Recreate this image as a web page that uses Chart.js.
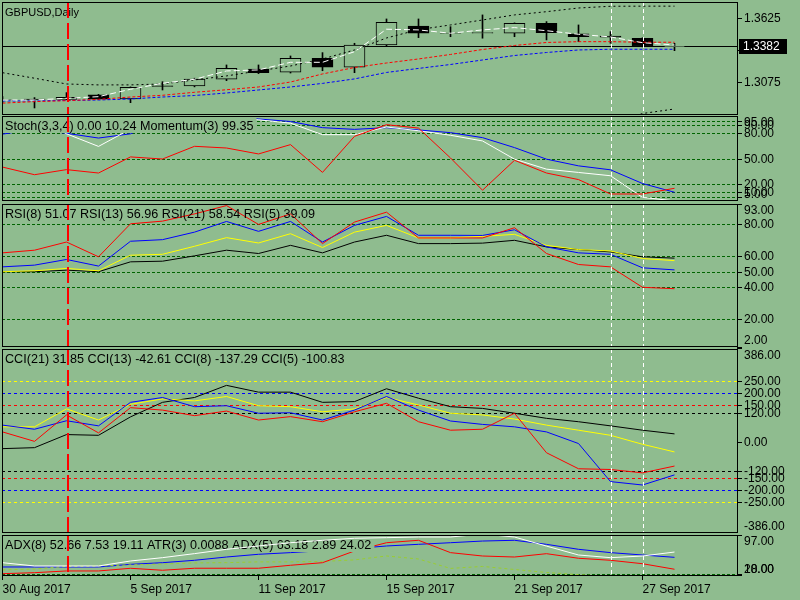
<!DOCTYPE html>
<html>
<head>
<meta charset="utf-8">
<script src="https://cdn.jsdelivr.net/npm/chart.js@4.4.1/dist/chart.umd.min.js"></script>
<style>
  html, body { margin: 0; padding: 0; background: #8fbc8f; }
  #wrap { position: relative; width: 800px; height: 600px; overflow: hidden; }
  #wrap canvas { position: absolute; left: 0; top: 0; }
</style>
</head>
<body>
<div id="wrap">
  <canvas id="cMain" width="800" height="600"></canvas>
  <canvas id="cStoch" width="800" height="600"></canvas>
  <canvas id="cRsi" width="800" height="600"></canvas>
  <canvas id="cCci" width="800" height="600"></canvas>
  <canvas id="cAdx" width="800" height="600"></canvas>
</div>
<script>
// bars (daily)
const dates = ['30 Aug 2017', '31 Aug 2017', '1 Sep 2017', '4 Sep 2017', '5 Sep 2017', '6 Sep 2017',
  '7 Sep 2017', '8 Sep 2017', '11 Sep 2017', '12 Sep 2017', '13 Sep 2017', '14 Sep 2017', '15 Sep 2017',
  '18 Sep 2017', '19 Sep 2017', '20 Sep 2017', '21 Sep 2017', '22 Sep 2017', '25 Sep 2017', '26 Sep 2017',
  '27 Sep 2017', '28 Sep 2017'];
const dateTicks = [0, 4, 8, 12, 16, 20];

const openP  = [1.2910, 1.2925, 1.2922, 1.2960, 1.2925, 1.3040, 1.3038, 1.3096, 1.3185, 1.3157, 1.3278,
  1.3200, 1.3393, 1.3558, 1.3497, 1.3495, 1.3495, 1.3582, 1.3489, 1.3471, 1.3452, 1.3380];
const highP  = [1.2945, 1.2937, 1.2980, 1.2965, 1.3030, 1.3075, 1.3105, 1.3220, 1.3220, 1.3298, 1.3327,
  1.3408, 1.3619, 1.3619, 1.3552, 1.3654, 1.3585, 1.3596, 1.3567, 1.3509, 1.3456, 1.3408];
const lowP   = [1.2895, 1.2847, 1.2918, 1.2920, 1.2893, 1.3003, 1.3030, 1.3084, 1.3145, 1.3150, 1.3170,
  1.3153, 1.3385, 1.3457, 1.3465, 1.3452, 1.3465, 1.3437, 1.3422, 1.3408, 1.3377, 1.3344];
const closeP = [1.2917, 1.2920, 1.2940, 1.2923, 1.3027, 1.3033, 1.3098, 1.3191, 1.3153, 1.3278, 1.3200,
  1.3393, 1.3590, 1.3495, 1.3495, 1.3500, 1.3582, 1.3500, 1.3466, 1.3460, 1.3380, 1.3382];

// price overlays
const bandUpper = [1.3153, 1.3105, 1.3055, 1.3047, 1.3047, 1.3055, 1.3090, 1.3125, 1.3168, 1.3211, 1.3272,
  1.3350, 1.3454, 1.3526, 1.3567, 1.3610, 1.3654, 1.3682, 1.3714, 1.3729, 1.3730, 1.3730];
const bandLower = [1.2600, 1.2610, 1.2620, 1.2625, 1.2630, 1.2630, 1.2625, 1.2620, 1.2615, 1.2615, 1.2620,
  1.2630, 1.2640, 1.2650, 1.2660, 1.2665, 1.2670, 1.2675, 1.2680, 1.2700, 1.2799, 1.2838];
const maWhite = [1.2916, 1.2916, 1.2931, 1.2945, 1.3009, 1.3061, 1.3096, 1.3168, 1.3177, 1.3243, 1.3243,
  1.3335, 1.3530, 1.3524, 1.3495, 1.3524, 1.3544, 1.3517, 1.3486, 1.3463, 1.3413, 1.3393];
const maRed = [1.2889, 1.2902, 1.2910, 1.2922, 1.2942, 1.2957, 1.2983, 1.3005, 1.3029, 1.3072, 1.3142,
  1.3198, 1.3237, 1.3272, 1.3311, 1.3354, 1.3389, 1.3415, 1.3422, 1.3422, 1.3417, 1.3417];
const maBlue = [1.2908, 1.2908, 1.2912, 1.2916, 1.2925, 1.2942, 1.2955, 1.2977, 1.3003, 1.3029, 1.3060,
  1.3099, 1.3155, 1.3190, 1.3224, 1.3263, 1.3302, 1.3328, 1.3350, 1.3356, 1.3356, 1.3356];
const bidPrice = 1.3382;
const priceTicks = [1.3625, 1.3350, 1.3075];

// stochastic + momentum
const stochMain = [100, 100, 79.4, 64.5, 85, 100, 100, 97.6, 96, 92, 78.4, 78.4, 87.5, 83, 77.7, 71,
  49.4, 37.6, 33.7, 29.8, 4.2, 0];
const stochSignal = [79, 85, 80, 74.4, 79.4, 95, 99, 99, 97, 94, 86.7, 84.7, 86.7, 84, 80.8, 74.9,
  63.1, 49.4, 41.5, 36.8, 20.6, 10.24];
const momentum = [100.35, 99.99, 100.23, 100.07, 100.83, 100.73, 101.33, 101.25, 100.97, 101.41, 100.10,
  101.80, 102.35, 102.19, 100.78, 99.26, 100.67, 100.07, 99.76, 99.08, 99.08, 99.35];
const stochLevels = [95, 90, 80, 50, 20, 10, 5];

// RSI
const rsi5  = [61.9, 63.6, 68.8, 59.4, 80.4, 82.1, 86.7, 92, 80, 86.7, 67.8, 81.5, 87.8, 71.4, 71.4, 71.4,
  77.9, 61.5, 54.5, 53, 40, 39.09];
const rsi8  = [53, 54.1, 57.7, 53.5, 69.3, 70.3, 75.1, 81.9, 75.6, 81.9, 68.8, 79.4, 85.1, 73.1, 73.1, 73,
  76.6, 65.7, 61.9, 61, 52.4, 51.07];
const rsi13 = [49.9, 50.5, 52, 50.5, 60.4, 61, 66.1, 71.6, 68.2, 74.1, 65.3, 75.1, 79.4, 71.4, 71.4, 72.4,
  73.7, 66.7, 64, 63.1, 58.3, 56.96];
const rsi21 = [49.9, 49.9, 50.9, 49.9, 56.2, 56.6, 60, 63.6, 61.5, 66.7, 61.9, 68.8, 73.1, 67.8, 67.8, 68.1,
  69.9, 65.7, 64, 62.5, 59.4, 58.54];
const rsiLevels = [80, 60, 50, 40, 20];
const rsiTicks = [93, 80, 60, 50, 40, 20, 2];

// CCI
const cci21 = [-29, -25, 29, 26, 102, 162, 182, 232, 204, 204, 162, 165, 218, 179, 144, 137, 117, 96, 82,
  65, 47, 31.85];
const cci13 = [61, 61, 135, 89, 154, 176, 168, 186, 148, 144, 123, 135, 182, 151, 117, 110, 93, 68, 47,
  26, -11, -42.61];
const cci8  = [68, 51, 86, 65, 162, 182, 144, 148, 117, 119, 89, 130, 186, 130, 85, 71, 61, 40, -8,
  -165, -179, -137.29];
const cci5  = [40, 1, 110, 36, 140, 130, 107, 126, 89, 103, 82, 123, 158, 82, 47, 51, 117, -46, -112,
  -115, -129, -100.83];
const cciTicks = [386, 250, 200, 150, 120, 0, -120, -150, -200, -250, -386];

// ADX / ATR
const adx5   = [42, 35.5, 35.5, 35.5, 45.4, 52, 60, 68.6, 75.2, 81.7, 86.5, 90.5, 91.7, 93, 93, 99, 93,
  75, 57.3, 52, 55.3, 63.18];
const adx8   = [33.5, 33.5, 33.5, 33.5, 38.8, 42, 46.8, 53.3, 58.7, 62, 66, 70, 75.2, 78.5, 81.7, 85,
  86.5, 78.5, 68.6, 62, 57.3, 52.66];
const adxRed = [20.2, 22.2, 25.6, 25.6, 30.9, 27, 31, 31, 31, 36.9, 42, 65.3, 81.7, 86.5, 62, 55.3, 53.3,
  59.9, 50.8, 46.8, 40, 29];
const atr3   = [0.0123, 0.0129, 0.0146, 0.0149, 0.0156, 0.0162, 0.0169, 0.0171, 0.0176, 0.0176, 0.0179,
  0.0189, 0.0215, 0.0195, 0.0133, 0.0146, 0.0126, 0.0106, 0.0092, 0.0079, 0.0072, 0.0088];
const adxLevels = [20, 18];
const adxTicks = [97, 20, 18];

const redMarkBar = 2;          // 1 Sep
const whiteMarkBars = [19, 20]; // 26 / 27 Sep

const BG = '#8fbc8f';
const GRID = '#006400';
const FAMILY = '"Liberation Sans", Arial, sans-serif';
const FONT = '12px ' + FAMILY;
const X_MIN = -1 / 64, X_MAX = 23 - 1 / 64;

function pts(arr) {
  return arr.map((v, i) => ({ x: i, y: v }));
}

function line(arr, color, dash, extra) {
  return Object.assign({
    type: 'line', data: pts(arr), borderColor: color, borderWidth: 1,
    borderDash: dash || [], pointRadius: 0, tension: 0, fill: false
  }, extra || {});
}

function drawTitle(chart, cfg, cover) {
  const { ctx, chartArea: a } = chart;
  ctx.save();
  ctx.font = cfg.titleFont || ('12.6px ' + FAMILY);
  if (cover) {
    const w = ctx.measureText(cfg.title).width;
    ctx.fillStyle = BG;
    ctx.fillRect(a.left + 1, a.top + 1, w + 5, 16);
  }
  ctx.fillStyle = '#000';
  ctx.textBaseline = 'middle';
  ctx.fillText(cfg.title, a.left + 3, a.top + 11);
  ctx.restore();
}

function vLine(ctx, x, a, color, dash, width) {
  ctx.strokeStyle = color;
  ctx.lineWidth = width;
  ctx.setLineDash(dash);
  ctx.beginPath();
  ctx.moveTo(x, a.top);
  ctx.lineTo(x, a.bottom);
  ctx.stroke();
}

// draws frame, level lines, title, right-hand labels for one pane
function panePlugin(cfg) {
  return {
    id: 'pane',
    beforeDatasetsDraw(chart) {
      const { ctx, chartArea: a, scales: { y } } = chart;
      ctx.save();
      ctx.lineWidth = 1;
      (cfg.levels || []).forEach(l => {
        const py = Math.round(y.getPixelForValue(l.v)) + 0.5;
        ctx.strokeStyle = l.color;
        ctx.setLineDash(l.dash || [3, 3]);
        ctx.beginPath();
        ctx.moveTo(a.left, py);
        ctx.lineTo(a.right, py);
        ctx.stroke();
      });
      if (cfg.bid != null) {
        const py = Math.round(y.getPixelForValue(cfg.bid)) + 0.5;
        ctx.strokeStyle = '#000';
        ctx.setLineDash([]);
        ctx.beginPath();
        ctx.moveTo(a.left, py);
        ctx.lineTo(a.right, py);
        ctx.stroke();
      }
      ctx.restore();
    },
    afterDatasetDraw(chart, args) {
      if (cfg.coverAfter === args.index) drawTitle(chart, cfg, true);
    },
    afterDatasetsDraw(chart) {
      const { ctx, chartArea: a, scales: { x } } = chart;
      if (cfg.coverAfter == null) drawTitle(chart, cfg, false);
      ctx.save();
      vLine(ctx, Math.round(x.getPixelForValue(redMarkBar)) + 1, a, '#f00', [16, 5], 2);
      whiteMarkBars.forEach(b => vLine(ctx, Math.round(x.getPixelForValue(b)) + 0.5, a, '#fff', [4, 3], 1));
      ctx.restore();
    },
    afterDraw(chart) {
      const { ctx, chartArea: a, scales: { y } } = chart;
      ctx.save();
      ctx.lineWidth = 1;
      ctx.strokeStyle = '#000';
      ctx.strokeRect(a.left + 0.5, a.top + 0.5, a.right - a.left - 1, a.bottom - a.top - 1);
      ctx.font = FONT;
      ctx.textBaseline = 'middle';
      ctx.fillStyle = '#000';
      cfg.ticks.forEach(v => {
        const py = Math.round(y.getPixelForValue(v)) + 0.5;
        ctx.beginPath();
        ctx.moveTo(a.right - 1, py);
        ctx.lineTo(a.right + 4, py);
        ctx.stroke();
        const ty = Math.min(Math.max(py, a.top + 7), a.bottom - 6);
        ctx.fillText(v.toFixed(cfg.dec), a.right + 6, ty);
      });
      if (cfg.bid != null) {
        const py = Math.round(y.getPixelForValue(cfg.bid)) + 0.5;
        ctx.fillStyle = '#000';
        ctx.fillRect(a.right + 1, py - 7.5, 48, 15);
        ctx.fillStyle = '#fff';
        ctx.fillText(cfg.bid.toFixed(4), a.right + 5, py);
      }
      ctx.restore();
    }
  };
}

function baseOptions(top, bottom, yMin, yMax, extraScales, showX) {
  const opts = {
    responsive: false,
    animation: false,
    devicePixelRatio: 1,
    events: [],
    layout: { padding: { left: 2, right: 62, top: top, bottom: 600 - bottom - (showX ? 24 : 0) } },
    plugins: { legend: { display: false }, tooltip: { enabled: false } },
    scales: Object.assign({
      x: { type: 'linear', min: X_MIN, max: X_MAX, offset: false, grid: { offset: false }, display: false },
      y: { type: 'linear', min: yMin, max: yMax, display: false }
    }, extraScales || {})
  };
  if (showX) {
    opts.scales.x = {
      type: 'linear', min: X_MIN, max: X_MAX, offset: false, display: true,
      afterBuildTicks: s => { s.ticks = dateTicks.map(v => ({ value: v })); },
      afterFit: s => { s.height = 24; s.paddingLeft = 0; s.paddingRight = 0; },
      ticks: {
        autoSkip: false, maxRotation: 0, minRotation: 0, align: 'start', padding: 2,
        color: '#000', font: { family: FAMILY, size: 12 },
        callback: v => dates[v]
      },
      grid: { offset: false, drawOnChartArea: false, drawTicks: true, tickLength: 4, color: '#000' },
      border: { display: false }
    };
  }
  return opts;
}

// main price pane
const idx = dates.map((_, i) => i);
new Chart(document.getElementById('cMain'), {
  type: 'line',
  data: {
    datasets: [
      line(maWhite, '#fff', [6, 3]),
      line(bandUpper, '#000', [2, 3]),
      line(bandLower, '#000', [2, 3]),
      line(maRed, '#f00', [3, 2]),
      line(maBlue, '#00f', [3, 2]),
      {
        type: 'bar', order: 2, grouped: false, barThickness: 21,
        data: idx.map(i => ({ x: i, y: [openP[i], closeP[i]] })),
        backgroundColor: c => (closeP[c.dataIndex] >= openP[c.dataIndex] ? BG : '#000'),
        borderColor: '#000', borderWidth: 1, borderSkipped: false
      },
      {
        type: 'bar', order: 3, grouped: false, barThickness: 1,
        data: idx.map(i => ({ x: i, y: [lowP[i], highP[i]] })),
        backgroundColor: '#000', borderWidth: 0
      }
    ]
  },
  options: baseOptions(2, 115, 1.2786, 1.3766),
  plugins: [panePlugin({ title: 'GBPUSD,Daily', titleFont: '11px ' + FAMILY, ticks: priceTicks, dec: 4, bid: bidPrice })]
});

// stochastic pane
new Chart(document.getElementById('cStoch'), {
  type: 'line',
  data: {
    datasets: [
      line(momentum, '#f00', [], { yAxisID: 'y2' }),
      line(stochMain, '#fff'),
      line(stochSignal, '#00f')
    ]
  },
  options: baseOptions(116, 201, -0.1, 100.5, {
    y2: { type: 'linear', min: 98.75, max: 102.76, display: false }
  }),
  plugins: [panePlugin({
    title: 'Stoch(3,3,4) 0.00 10.24 Momentum(3) 99.35', coverAfter: 1,
    levels: stochLevels.map(v => ({ v: v, color: GRID, dash: [3, 2] })),
    ticks: stochLevels, dec: 2
  })]
});

// RSI pane
new Chart(document.getElementById('cRsi'), {
  type: 'line',
  data: {
    datasets: [
      line(rsi5, '#f00'),
      line(rsi8, '#00f'),
      line(rsi13, '#ff0'),
      line(rsi21, '#000')
    ]
  },
  options: baseOptions(204, 347, 2, 93),
  plugins: [panePlugin({
    title: 'RSI(8) 51.07 RSI(13) 56.96 RSI(21) 58.54 RSI(5) 39.09',
    levels: rsiLevels.map(v => ({ v: v, color: GRID, dash: [3, 2] })),
    ticks: rsiTicks, dec: 2
  })]
});

// CCI pane
new Chart(document.getElementById('cCci'), {
  type: 'line',
  data: {
    datasets: [
      line(cci5, '#f00'),
      line(cci8, '#00f'),
      line(cci13, '#ff0'),
      line(cci21, '#000')
    ]
  },
  options: baseOptions(349, 533, -377, 382),
  plugins: [panePlugin({
    title: 'CCI(21) 31.85 CCI(13) -42.61 CCI(8) -137.29 CCI(5) -100.83',
    levels: [
      { v: 250, color: '#ff0' }, { v: 200, color: '#00f' }, { v: 150, color: '#f00' }, { v: 120, color: '#000' },
      { v: -120, color: '#000' }, { v: -150, color: '#f00' }, { v: -200, color: '#00f' }, { v: -250, color: '#ff0' }
    ],
    ticks: cciTicks, dec: 2
  })]
});

// ADX / ATR pane with the date axis
new Chart(document.getElementById('cAdx'), {
  type: 'line',
  data: {
    datasets: [
      line(adx5, '#fff'),
      line(adxRed, '#f00'),
      line(atr3, '#9acd32', [3, 3], { yAxisID: 'y2' }),
      line(adx8, '#00f')
    ]
  },
  options: baseOptions(535, 576, 15.6, 97, {
    y2: { type: 'linear', min: 0.0083, max: 0.0353, display: false }
  }, true),
  plugins: [panePlugin({
    title: 'ADX(8) 52.66 7.53 19.11 ATR(3) 0.0088 ADX(5) 63.18 2.89 24.02', coverAfter: 1,
    levels: adxLevels.map(v => ({ v: v, color: GRID, dash: [3, 2] })),
    ticks: adxTicks, dec: 2
  })]
});
</script>
</body>
</html>
